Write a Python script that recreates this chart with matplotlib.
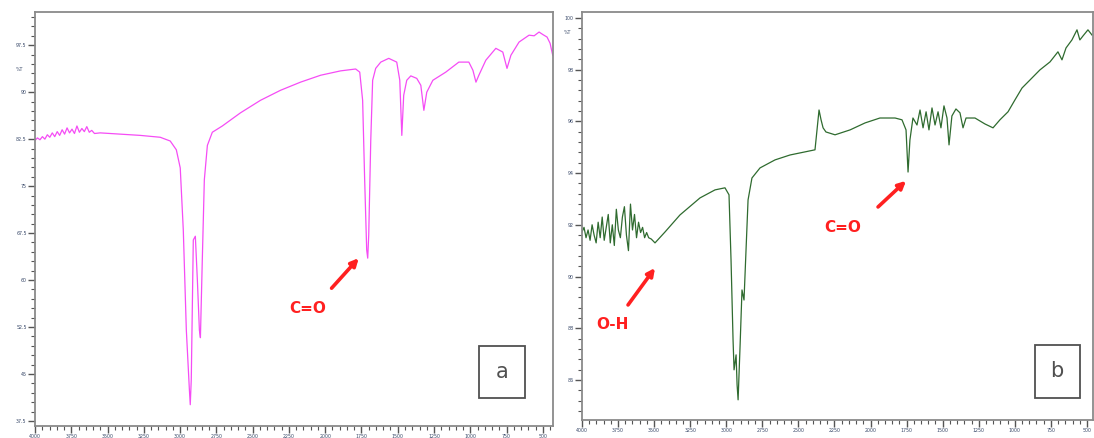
import numpy as np
import matplotlib.pyplot as plt
from matplotlib.patches import Rectangle

# spectrum a (pink): wavenumber (cm-1) and %T
wn_a = [4000, 3983, 3966, 3949, 3932, 3915, 3898, 3881, 3864, 3847, 3830, 3813, 3796,
        3779, 3762, 3745, 3728, 3711, 3694, 3677, 3660, 3643, 3626, 3609, 3590,
        3551, 3413, 3275, 3137, 3068, 3026, 2999, 2978, 2957, 2936, 2930, 2923, 2909,
        2895, 2881, 2867, 2860, 2847, 2833, 2812, 2778, 2709, 2584, 2446, 2308, 2170,
        2032, 1894, 1790, 1762, 1742, 1728, 1714, 1707, 1700, 1686, 1673, 1652, 1617,
        1562, 1507, 1486, 1472, 1459, 1438, 1410, 1369, 1341, 1320, 1300, 1258, 1169,
        1079, 1010, 982, 961, 941, 893, 824, 776, 747, 720, 664, 595, 560, 526, 500,
        471, 450, 432]
t_a = [82.3, 82.7, 82.4, 82.9, 82.5, 83.2, 82.8, 83.5, 82.9, 83.7, 83.1, 84.0, 83.3,
       84.3, 83.5, 84.1, 83.4, 84.6, 83.6, 84.2, 83.7, 84.5, 83.6, 83.9, 83.4,
       83.5, 83.3, 83.1, 82.8, 82.2, 80.8, 77.9, 68.0, 52.0, 42.5, 40.1, 44.1, 66.4,
       67.0, 60.0, 52.0, 50.8, 63.2, 76.0, 81.5, 83.6, 84.6, 86.7, 88.7, 90.3, 91.6,
       92.7, 93.4, 93.7, 93.2, 88.7, 76.0, 64.8, 63.5, 67.2, 82.3, 91.9, 93.8, 94.8,
       95.4, 94.8, 91.9, 83.1, 89.5, 91.9, 92.6, 92.2, 91.1, 87.1, 90.0, 91.9, 93.2,
       94.8, 94.8, 93.5, 91.6, 92.7, 95.1, 97.0, 96.4, 93.8, 95.9, 98.0, 99.1, 99.0,
       99.6, 99.2, 98.8, 97.8, 95.9]

# spectrum b (green)
wn_b = [4000, 3986, 3972, 3958, 3944, 3930, 3916, 3902, 3888, 3874, 3860, 3846, 3832,
        3818, 3804, 3790, 3776, 3762, 3748, 3734, 3720, 3706, 3692, 3678, 3664, 3650,
        3636, 3622, 3608, 3594, 3580, 3566, 3552, 3538, 3520, 3494,
        3425, 3321, 3182, 3078, 3009, 2981, 2967,
        2953, 2946, 2932, 2925, 2918, 2904, 2891, 2877, 2863, 2849, 2822, 2766, 2662,
        2558, 2454, 2385, 2371, 2357, 2343, 2329, 2309, 2246, 2142, 2038, 1935, 1830,
        1782, 1754, 1740, 1727, 1706, 1678, 1657, 1636, 1615, 1595, 1574, 1553, 1532,
        1512, 1491, 1470, 1456, 1436, 1408, 1380, 1359, 1338, 1276, 1207, 1151, 1103,
        1047, 999, 950, 895, 826, 756, 701, 673, 645, 604, 569, 549, 528, 493, 465]
t_b = [91.72, 91.9, 91.5, 91.8, 91.4, 92.0, 91.6, 91.3, 92.1, 91.5, 92.3, 91.4, 91.9,
       92.4, 91.3, 92.0, 91.2, 92.6, 91.8, 91.5, 92.3, 92.7, 91.6, 91.0, 92.8, 91.8,
       92.4, 91.5, 92.1, 91.7, 91.9, 91.5, 91.7, 91.5, 91.45, 91.30,
       91.72, 92.38, 93.04, 93.35, 93.43, 93.16, 90.64,
       87.55, 86.39, 86.97, 85.81, 85.23, 87.36, 89.48, 89.09, 91.03, 92.96, 93.81,
       94.20, 94.51, 94.70, 94.82, 94.90, 95.67, 96.44, 96.06, 95.75, 95.59, 95.48,
       95.67, 95.94, 96.13, 96.13, 96.06, 95.67, 94.04, 95.28, 96.13, 95.86, 96.44,
       95.75, 96.37, 95.67, 96.52, 95.86, 96.37, 95.75, 96.60, 96.13, 95.09, 96.21,
       96.48, 96.33, 95.75, 96.13, 96.13, 95.90, 95.75, 96.06, 96.37, 96.83, 97.29,
       97.60, 97.99, 98.30, 98.69, 98.38, 98.84, 99.15, 99.54, 99.15, 99.30, 99.54,
       99.34]

x_ticks = [4000, 3750, 3500, 3250, 3000, 2750, 2500, 2250, 2000, 1750, 1500, 1250,
           1000, 750, 500]
y_ticks_a = [97.5, 90, 82.5, 75, 67.5, 60, 52.5, 45, 37.5]
y_ticks_b = [100, 98, 96, 94, 92, 90, 88, 86]

W, H = 1094, 438
fig = plt.figure(figsize=(W / 100, H / 100), dpi=100)
fig.patch.set_facecolor("white")


def px_axes(x0, y0, x1, y1):
    return fig.add_axes([x0 / W, 1 - y1 / H, (x1 - x0) / W, (y1 - y0) / H])


def style(ax, yticks, ystep):
    for s in ax.spines.values():
        s.set_color("#8a8a8a")
        s.set_linewidth(1.3)
    ax.set_xticks(x_ticks)
    ax.set_xticks(np.arange(4000, 400, -50), minor=True)
    ax.set_yticks(yticks)
    ax.set_yticklabels([f"{v:g}" for v in yticks])
    ax.set_yticks(np.arange(yticks[-1] - 5 * ystep, yticks[0] + 5 * ystep, ystep),
                  minor=True)
    ax.tick_params(which="major", length=5, width=1, color="#555555",
                   labelsize=3.4, labelcolor="#3a4a6a", pad=1)
    ax.tick_params(which="minor", length=3, width=0.8, color="#555555")


def label_box(ax, x, y, w, h, s):
    ax.add_patch(Rectangle((x, y), w, h, transform=ax.transAxes, fill=False,
                           edgecolor="#505050", lw=1.3))
    ax.text(x + w / 2, y + h / 2, s, transform=ax.transAxes, ha="center",
            va="center", fontsize=15, color="#505050")


red = "#ff2020"
arrow = dict(arrowstyle="-|>", color=red, lw=2.6, mutation_scale=11,
             shrinkA=0, shrinkB=0)

# panel a
ax1 = px_axes(35, 12, 553, 426)
ax1.plot(wn_a, t_a, color="#f54cf5", lw=0.9)
style(ax1, y_ticks_a, 1.5)
ax1.set_xlim(4000, 430)
ax1.set_ylim(36.7, 102.8)
ax1.text(-0.022, 0.86, "%T", transform=ax1.transAxes, ha="right", va="center",
         fontsize=3.4, color="#3a4a6a")
ax1.annotate("", xy=(1769, 63.5), xytext=(1956, 58.7), arrowprops=arrow)
ax1.text(2122, 55.5, "C=O", color=red, fontsize=11, fontweight="bold",
         ha="center", va="center")
label_box(ax1, 0.857, 0.068, 0.089, 0.126, "a")

# panel b
ax2 = px_axes(582, 12, 1093, 420)
ax2.plot(wn_b, t_b, color="#2f6b2f", lw=0.9)
style(ax2, y_ticks_b, 0.4)
ax2.set_xlim(4000, 458)
ax2.set_ylim(84.45, 100.23)
ax2.text(-0.022, 0.95, "%T", transform=ax2.transAxes, ha="right", va="center",
         fontsize=3.4, color="#3a4a6a")
ax2.annotate("", xy=(1754, 93.7), xytext=(1948, 92.69), arrowprops=arrow)
ax2.text(2191, 91.88, "C=O", color=red, fontsize=11, fontweight="bold",
         ha="center", va="center")
ax2.annotate("", xy=(3494, 90.33), xytext=(3681, 88.9), arrowprops=arrow)
ax2.text(3792, 88.13, "O-H", color=red, fontsize=11, fontweight="bold",
         ha="center", va="center")
label_box(ax2, 0.886, 0.054, 0.088, 0.13, "b")

fig.savefig("out.png", dpi=100)
